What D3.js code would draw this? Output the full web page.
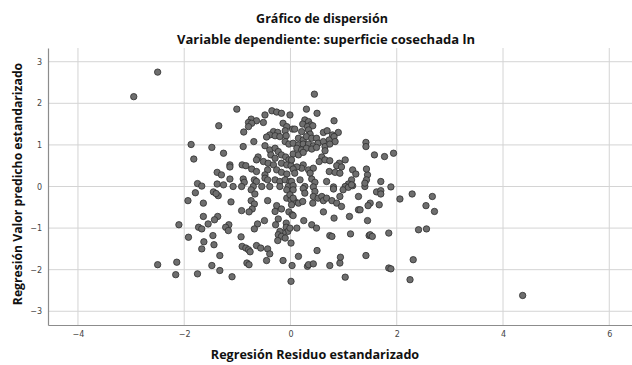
<!DOCTYPE html>
<html>
<head>
<meta charset="utf-8">
<script src="https://cdn.jsdelivr.net/npm/d3@7"></script>
<style>
    body { margin: 0; background: #fff; }
    svg { display: block; }
    .grid line { stroke: #d4d4d4; stroke-width: 1; }
    .tick-label { font-family: "DejaVu Sans", sans-serif; font-size: 8px; fill: #444; }
    .title { font-family: "Open Sans", "DejaVu Sans", sans-serif; font-weight: bold; fill: #111; }
</style>
</head>
<body>
<svg id="chart" width="632" height="365"></svg>
<script>
const chartTitle = 'Gráfico de dispersión';
const chartSubtitle = 'Variable dependiente: superficie cosechada ln';
const xLabel = 'Regresión Residuo estandarizado';
const yLabel = 'Regresión Valor predicho estandarizado';

const xTicks = [-4, -2, 0, 2, 4, 6];
const yTicks = [-3, -2, -1, 0, 1, 2, 3];

// standardized residual / standardized predicted value
const residuals = [
    -2.95, -1.35, -1.87, -1.48, -1.82, -1.38, -1.75, -1.67, -1.38, -2.50,
    -1.79, -1.45, -1.36, -1.93, -1.64, -1.64, -1.37, -1.43, -1.55, -2.10, -1.73, -1.67, -1.92, -1.46,
    -1.63, -1.44, -1.67, -1.33, -2.50, -2.14, -1.48, -1.33, -2.16, -1.75, -1.40,
    -1.01, -0.35, -0.26, -0.17, -0.48, -0.74, -0.64, -0.79, -0.73, -0.51, -0.79, -0.88, -0.14, -0.07,
    0.04, -0.10, -0.32, -0.24, -0.39, -0.29, -0.20, -0.45, -0.08, -0.10, -0.03, -0.69, -0.89, -0.48,
    -0.39, -0.29, -0.23, -0.17, -0.09, -0.03, -0.37, -0.29, -1.26, -0.61, -0.64, -0.51, -0.42, -0.32,
    -0.17, -0.07, 0.01, -1.14, -1.14, -0.91, -0.84, -0.73, -0.64, -0.43, -0.48, -0.26, -0.17, -0.07,
    -1.30, -1.14, -0.89, -0.87, -0.68, -0.64, -0.48, -0.43, -0.29, -0.20, -0.10, -0.01, -1.26, -1.08,
    -0.92, -0.70, -0.54, -0.39, -0.20, -0.04,
    -0.74, -0.67, -0.07, -1.12, -0.74, -0.68, -0.72, -0.78, -0.92, -0.43, -0.07, 0.01, 0.08, -0.26,
    -0.29, -0.17, -0.03, 0.03, -0.23, -0.49, -0.62, -0.68, -1.16, -1.22, -1.17, -0.28, -0.08, -0.08,
    -0.05, -0.14, -0.20, -0.23, -0.17, -0.10, -0.24, -0.01, -0.93, -0.91, -0.84, -0.79, -0.76, -0.64,
    -0.56, -0.43, -0.39, 0.01, -0.82, -0.78, -0.45, -0.14, 0.03, -1.10, 0.01,
    0.45, 0.30, 0.50, -0.01, 0.27, 0.34, 0.23, 0.38, 0.32, 0.42, 0.82, 0.08, 0.21, 0.34, 0.37, 0.62,
    0.69, 0.79, 0.90, 0.15, 0.24, 0.30, 0.40, 0.49, 0.05, 0.15, 0.24, 0.34, 0.43, 0.52, 0.62, 0.73,
    0.82, 0.84, 0.12, 0.21, 0.30, 0.40, 0.49, 0.65, 0.65, 0.74, 1.42, 1.42, 0.05, 0.15, 0.24, 0.02,
    0.59, 0.54, 0.65, 0.74, 1.03, 0.92, 0.87, 0.96, 0.24, 0.21, 0.12, 0.05, 0.08, 0.34, 0.43, 0.37,
    0.73, 0.84, 0.93, 1.17, 1.23, 0.18, 0.40, 0.46, 0.68, 1.15, 1.09, 1.03, 1.17, 1.45, 1.43, 0.02,
    0.05, 0.27, 0.43, 0.81,
    0.05, 0.24, 0.27, 0.46, 0.43, -0.01, 0.05, 0.15, 0.23, 0.02, 0.42, 0.52, 0.59, 0.62, 0.68, 0.78,
    0.87, 0.96, 0.81, 0.93, 0.99, 1.09, 1.15, 1.28, 1.40, 0.05, 0.25, 0.62, 0.82, 1.11, 1.28, 1.31,
    1.45, 0.40, 0.49, 0.12, 0.74, 0.78, 1.13, 1.48, 0.50, 0.15, 0.32, 0.34, 0.43, 0.74, 0.93, 0.94,
    1.42, 1.03,
    1.58, 1.77, 1.94, 1.43, 1.70, 1.89, 1.40,
    1.62, 1.70, 1.70, 1.50, 1.46, 1.67, 2.06, 2.29, 2.67, 2.55, 2.71, 1.50, 1.54, 1.85, 2.41, 2.56,
    2.31, 1.85, 1.89, 2.25, 4.37
];

const predicted = [
    2.16, 1.46, 1.01, 0.94, 0.66, 0.34, 0.07, 0.01, 0.06, 2.75,
    -0.15, -0.13, -0.22, -0.34, -0.40, -0.72, -0.72, -0.80, -0.90, -0.92, -0.98, -1.02, -1.22, -1.18,
    -1.33, -1.40, -1.50, -1.66, -1.88, -1.82, -1.90, -2.02, -2.12, -2.10, -0.17,
    1.86, 1.82, 1.79, 1.76, 1.72, 1.62, 1.58, 1.54, 1.52, 1.54, 1.44, 1.31, 1.52, 1.44,
    1.38, 1.34, 1.32, 1.30, 1.24, 1.22, 1.20, 1.19, 1.22, 1.08, 1.02, 1.08, 0.96, 0.98,
    0.88, 0.92, 0.84, 0.76, 0.71, 0.64, 0.76, 0.68, 0.80, 0.71, 0.64, 0.60, 0.56, 0.52,
    0.56, 0.52, 0.50, 0.52, 0.47, 0.52, 0.50, 0.42, 0.36, 0.40, 0.28, 0.40, 0.34, 0.30,
    0.28, 0.18, 0.18, 0.10, 0.16, 0.12, 0.20, 0.16, 0.16, 0.12, 0.16, 0.12, 0.04, 0.00,
    0.00, 0.00, 0.00, 0.00, 0.00, 0.00,
    -0.08, -0.18, -0.08, -0.37, -0.34, -0.42, -0.54, -0.61, -0.58, -0.34, -0.28, -0.32, -0.36, -0.46,
    -0.60, -0.54, -0.61, -0.68, -0.78, -0.82, -0.90, -1.02, -0.92, -0.98, -1.06, -0.92, -0.88, -0.98,
    -1.08, -1.12, -1.08, -1.16, -1.20, -1.24, -1.30, -1.00, -1.21, -1.44, -1.48, -1.52, -1.57, -1.42,
    -1.48, -1.50, -1.62, -1.36, -1.84, -1.88, -1.78, -1.78, -1.90, -2.17, -2.28,
    2.22, 1.86, 1.76, 1.72, 1.60, 1.56, 1.50, 1.48, 1.44, 1.46, 1.58, 1.38, 1.32, 1.36, 1.26, 1.30,
    1.34, 1.24, 1.30, 1.16, 1.12, 1.20, 1.16, 1.16, 1.04, 1.00, 1.02, 1.02, 0.98, 1.04, 1.08, 1.12,
    1.20, 1.08, 0.92, 0.88, 0.92, 0.90, 0.94, 0.96, 0.86, 1.02, 1.06, 0.96, 0.78, 0.76, 0.82, 0.64,
    0.71, 0.60, 0.64, 0.62, 0.64, 0.56, 0.50, 0.47, 0.52, 0.44, 0.47, 0.42, 0.32, 0.40, 0.44, 0.32,
    0.36, 0.34, 0.32, 0.40, 0.30, 0.16, 0.18, 0.10, 0.12, 0.16, 0.06, 0.00, 0.02, 0.28, 0.16, 0.12,
    0.02, 0.00, -0.01, -0.01,
    -0.08, -0.05, -0.16, -0.12, -0.24, -0.20, -0.28, -0.40, -0.36, -0.44, -0.40, -0.28, -0.24, -0.34, -0.28, -0.34,
    -0.40, -0.48, -0.06, -0.24, -0.08, -0.02, 0.04, -0.24, 0.00, -0.70, -0.82, -0.61, -0.76, -0.72, -0.56, -0.56,
    -0.82, -0.92, -1.00, -1.00, -1.18, -1.20, -1.14, -1.18, -1.54, -1.68, -1.92, -1.88, -1.86, -1.90, -1.84, -1.70,
    -1.66, -2.18,
    0.76, 0.72, 0.80, 0.42, 0.12, -0.01, 0.08,
    -0.13, -0.10, -0.18, -0.40, -0.46, -0.44, -0.30, -0.18, -0.24, -0.46, -0.60, -1.16, -1.20, -1.12, -1.04, -1.02,
    -1.76, -1.96, -1.98, -2.24, -2.62
];

const width = 632;
const height = 365;
const margin = {top: 48, right: 0, bottom: 40, left: 48};

const svg = d3.select('#chart');

const xScale = d3.scaleLinear()
    .domain([-4.564, 6.428])
    .range([margin.left, width - margin.right]);

const yScale = d3.scaleLinear()
    .domain([-3.33, 3.33])
    .range([height - margin.bottom, margin.top]);

// gridlines
const grid = svg.append('g').attr('class', 'grid');
grid.selectAll('line.v')
    .data(xTicks)
    .enter()
    .append('line')
    .attr('class', 'v')
    .attr('x1', d => xScale(d))
    .attr('x2', d => xScale(d))
    .attr('y1', margin.top)
    .attr('y2', height - margin.bottom);
grid.selectAll('line.h')
    .data(yTicks)
    .enter()
    .append('line')
    .attr('class', 'h')
    .attr('x1', margin.left)
    .attr('x2', width - margin.right)
    .attr('y1', d => yScale(d))
    .attr('y2', d => yScale(d));

// axes
const xAxis = d3.axisBottom(xScale).tickValues(xTicks).tickSize(0).tickPadding(6);
const yAxis = d3.axisLeft(yScale).tickValues(yTicks).tickSize(0).tickPadding(6);

const gx = svg.append('g')
    .attr('transform', `translate(0, ${height - margin.bottom})`)
    .call(xAxis);
const gy = svg.append('g')
    .attr('transform', `translate(${margin.left}, 0)`)
    .call(yAxis);

[gx, gy].forEach(g => {
    g.select('.domain').attr('stroke', '#8c8c8c').attr('stroke-width', 1.2);
    g.selectAll('.tick text')
        .attr('class', 'tick-label')
        .text(d => d < 0 ? '\u2212' + Math.abs(d) : d);
});

// points
const points = residuals.map((r, i) => ({x: r, y: predicted[i]}));
svg.append('g')
    .selectAll('circle')
    .data(points)
    .enter()
    .append('circle')
    .attr('cx', d => xScale(d.x))
    .attr('cy', d => yScale(d.y))
    .attr('r', 3.2)
    .attr('fill', '#6e6e6e')
    .attr('stroke', '#2e2e2e')
    .attr('stroke-width', 0.8);

// titles
svg.append('text')
    .attr('class', 'title')
    .attr('x', 322)
    .attr('y', 23)
    .attr('text-anchor', 'middle')
    .attr('font-size', 12.5)
    .text(chartTitle);

svg.append('text')
    .attr('class', 'title')
    .attr('x', 326)
    .attr('y', 44)
    .attr('text-anchor', 'middle')
    .attr('font-size', 13)
    .text(chartSubtitle);

svg.append('text')
    .attr('class', 'title')
    .attr('x', 315)
    .attr('y', 359)
    .attr('text-anchor', 'middle')
    .attr('font-size', 12.6)
    .text(xLabel);

svg.append('text')
    .attr('class', 'title')
    .attr('transform', `translate(22, 184) rotate(-90)`)
    .attr('text-anchor', 'middle')
    .attr('font-size', 12.2)
    .text(yLabel);
</script>
</body>
</html>
